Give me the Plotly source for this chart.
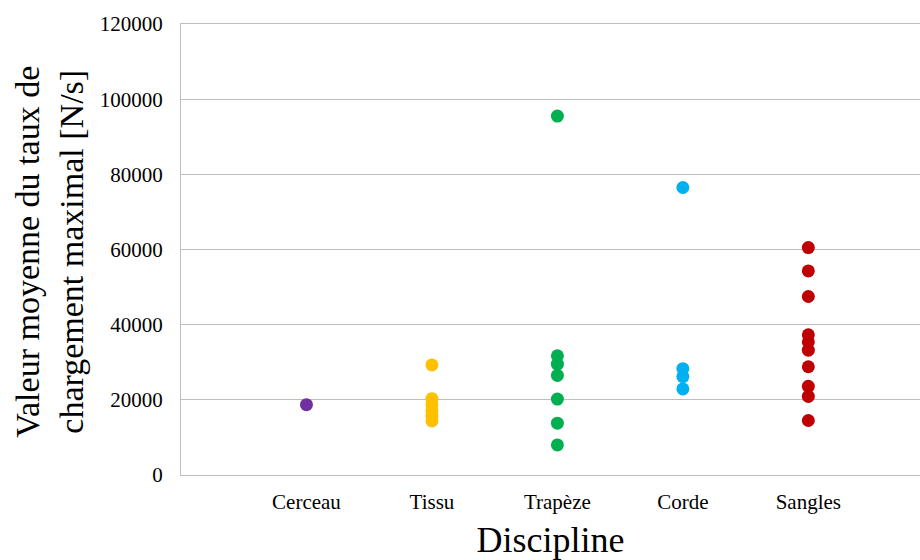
import plotly.graph_objects as go

categories = ["Cerceau", "Tissu", "Trapèze", "Corde", "Sangles"]
colors = ["#7030A0", "#FFC000", "#00B050", "#00B0F0", "#C00000"]

cerceau = [18700]
tissu = [29300, 20300, 18700, 17100, 15700, 14400]
trapeze = [95500, 31700, 29500, 26500, 20200, 13800, 8000]
corde = [76500, 28300, 26200, 22900]
sangles = [60500, 54300, 47500, 37300, 35400, 33200, 28800, 23600, 20900, 14500]

series = [cerceau, tissu, trapeze, corde, sangles]
yticks = [0, 20000, 40000, 60000, 80000, 100000, 120000]

FONT = "Liberation Serif, Times New Roman, serif"
GRID = "#BEBEBE"

fig = go.Figure()
for i, (name, vals, col) in enumerate(zip(categories, series, colors)):
    fig.add_trace(go.Scatter(
        x=[i + 1] * len(vals), y=vals, mode="markers", name=name,
        marker=dict(color=col, size=13, line=dict(width=0)),
        showlegend=False,
    ))

fig.update_layout(
    width=920, height=560,
    margin=dict(l=181, r=0, t=24, b=85, autoexpand=False),
    paper_bgcolor="white", plot_bgcolor="white",
    font=dict(family=FONT, color="black"),
    xaxis=dict(
        range=[0, 5.89], tickvals=[1, 2, 3, 4, 5], ticktext=categories,
        showgrid=False, zeroline=False, automargin=False,
        showline=True, mirror=True, linecolor=GRID, linewidth=1,
        tickfont=dict(size=21, family=FONT), ticks="", ticklabelstandoff=8,
        title=dict(text="Discipline", font=dict(size=36, family=FONT), standoff=20),
    ),
    yaxis=dict(
        range=[0, 120000], tickvals=yticks, ticktext=[str(v) for v in yticks],
        showgrid=True, gridcolor=GRID, gridwidth=1, automargin=False,
        zeroline=False, showline=True, linecolor=GRID, linewidth=1,
        tickfont=dict(size=21, family=FONT), ticks="", ticklabelstandoff=13,
    ),
)

fig.add_annotation(
    text="Valeur moyenne du taux de<br>chargement maximal [N/s]",
    xref="paper", yref="paper", x=(50 - 181) / 739, y=0.495,
    xanchor="center", yanchor="middle",
    textangle=-90, showarrow=False, font=dict(size=34, family=FONT),
)

fig.write_html(
    "out.html",
    config={"displayModeBar": False},
    post_script="document.body.style.margin='0';document.body.style.overflow='hidden';",
)
